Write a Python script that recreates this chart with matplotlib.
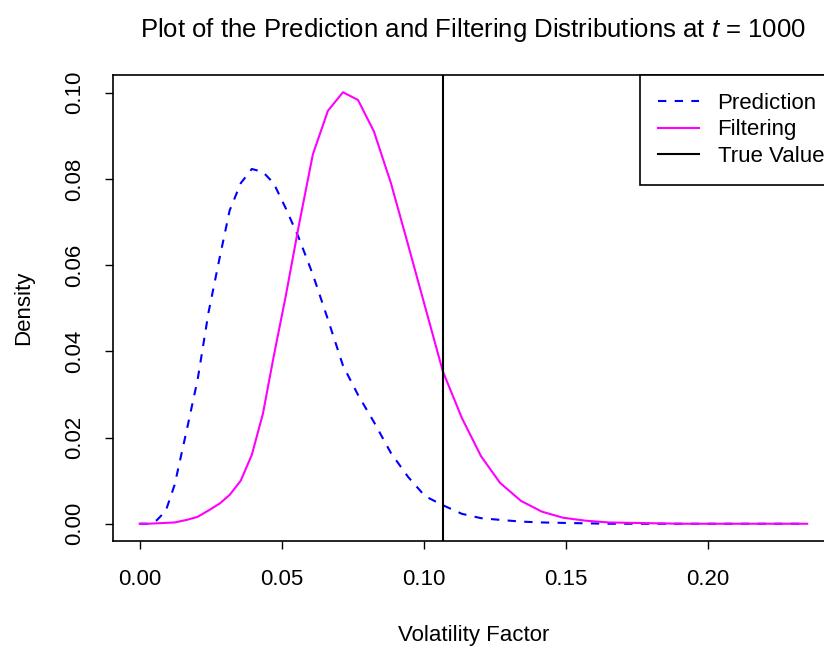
import matplotlib
matplotlib.use("Agg")
import matplotlib.pyplot as plt

plt.rcParams['font.family'] = ['Liberation Sans', 'DejaVu Sans']
plt.rcParams['mathtext.fontset'] = 'custom'
plt.rcParams['mathtext.rm'] = 'Liberation Sans'
plt.rcParams['mathtext.it'] = 'Liberation Sans:italic'

# grid of volatility factor values
vol = [0.0000, 0.0028, 0.0060, 0.0092, 0.0123, 0.0166, 0.0204, 0.0243,
       0.0282, 0.0317, 0.0356, 0.0395, 0.0434, 0.0472, 0.0515, 0.0560,
       0.0610, 0.0663, 0.0716, 0.0769, 0.0825, 0.0885, 0.0945, 0.1005,
       0.1068, 0.1135, 0.1202, 0.1269, 0.1343, 0.1417, 0.1491, 0.1572,
       0.1653, 0.1738, 0.1822, 0.1907, 0.1995, 0.2083, 0.2175, 0.2263,
       0.2351]

pred = [0.0000, 0.0000, 0.0008, 0.0030, 0.0090, 0.0218, 0.0334, 0.0492,
        0.0618, 0.0727, 0.0790, 0.0823, 0.0816, 0.0790, 0.0731, 0.0664,
        0.0578, 0.0474, 0.0367, 0.0299, 0.0236, 0.0164, 0.0109, 0.0064,
        0.0043, 0.0023, 0.0013, 0.0009, 0.0005, 0.0003, 0.0002, 0.0001,
        0.0000, 0.0000, 0.0000, 0.0000, 0.0000, 0.0000, 0.0000, 0.0000,
        0.0000]

filt = [0.0000, 0.0000, 0.0001, 0.0002, 0.0003, 0.0009, 0.0016, 0.0031,
        0.0047, 0.0067, 0.0100, 0.0160, 0.0255, 0.0388, 0.0530, 0.0690,
        0.0857, 0.0958, 0.1001, 0.0983, 0.0910, 0.0790, 0.0648, 0.0504,
        0.0353, 0.0245, 0.0157, 0.0095, 0.0053, 0.0028, 0.0014, 0.0007,
        0.0003, 0.0002, 0.0001, 0.0000, 0.0000, 0.0000, 0.0000, 0.0000,
        0.0000]

true_value = 0.1069

xticks = [0.00, 0.05, 0.10, 0.15, 0.20]
yticks = [0.00, 0.02, 0.04, 0.06, 0.08, 0.10]

fig = plt.figure(figsize=(8.24, 6.48), dpi=100)
ax = fig.add_axes([0.1371, 0.1651, 0.8749, 0.7192])

ax.plot(vol, pred, color='#0000FF', lw=1.5, linestyle=(0, (4, 4)), label='Prediction')
ax.plot(vol, filt, color='#FF00FF', lw=1.5, label='Filtering')
ax.axvline(true_value, color='black', lw=1.5, label='True Value')

# R-style 4% padding around the data range
xr = max(vol) - min(vol)
yr = max(max(pred), max(filt))
ax.set_xlim(min(vol) - 0.04 * xr, max(vol) + 0.04 * xr)
ax.set_ylim(-0.04 * yr, yr * 1.04)

ax.set_xticks(xticks)
ax.set_xticklabels([f'{v:.2f}' for v in xticks])
ax.set_yticks(yticks)
ax.set_yticklabels([f'{v:.2f}' for v in yticks], rotation=90, va='center')
ax.tick_params(direction='out', length=6, width=1, labelsize=16, pad=14)
for s in ax.spines.values():
    s.set_linewidth(1.2)

ax.set_title('Plot of the Prediction and Filtering Distributions at $t$ = 1000',
             fontsize=18.5, pad=27)
ax.set_xlabel('Volatility Factor', fontsize=16, labelpad=25)
ax.set_ylabel('Density', fontsize=16, labelpad=22)

leg = ax.legend(loc='upper right', bbox_to_anchor=(1.011, 1), borderaxespad=0,
                fontsize=16, handlelength=1.85, handletextpad=0.85,
                labelspacing=0.25, borderpad=0.8, fancybox=False, framealpha=1)
leg.get_frame().set_edgecolor('black')
leg.get_frame().set_linewidth(1.2)

fig.savefig('out.png', dpi=100)
